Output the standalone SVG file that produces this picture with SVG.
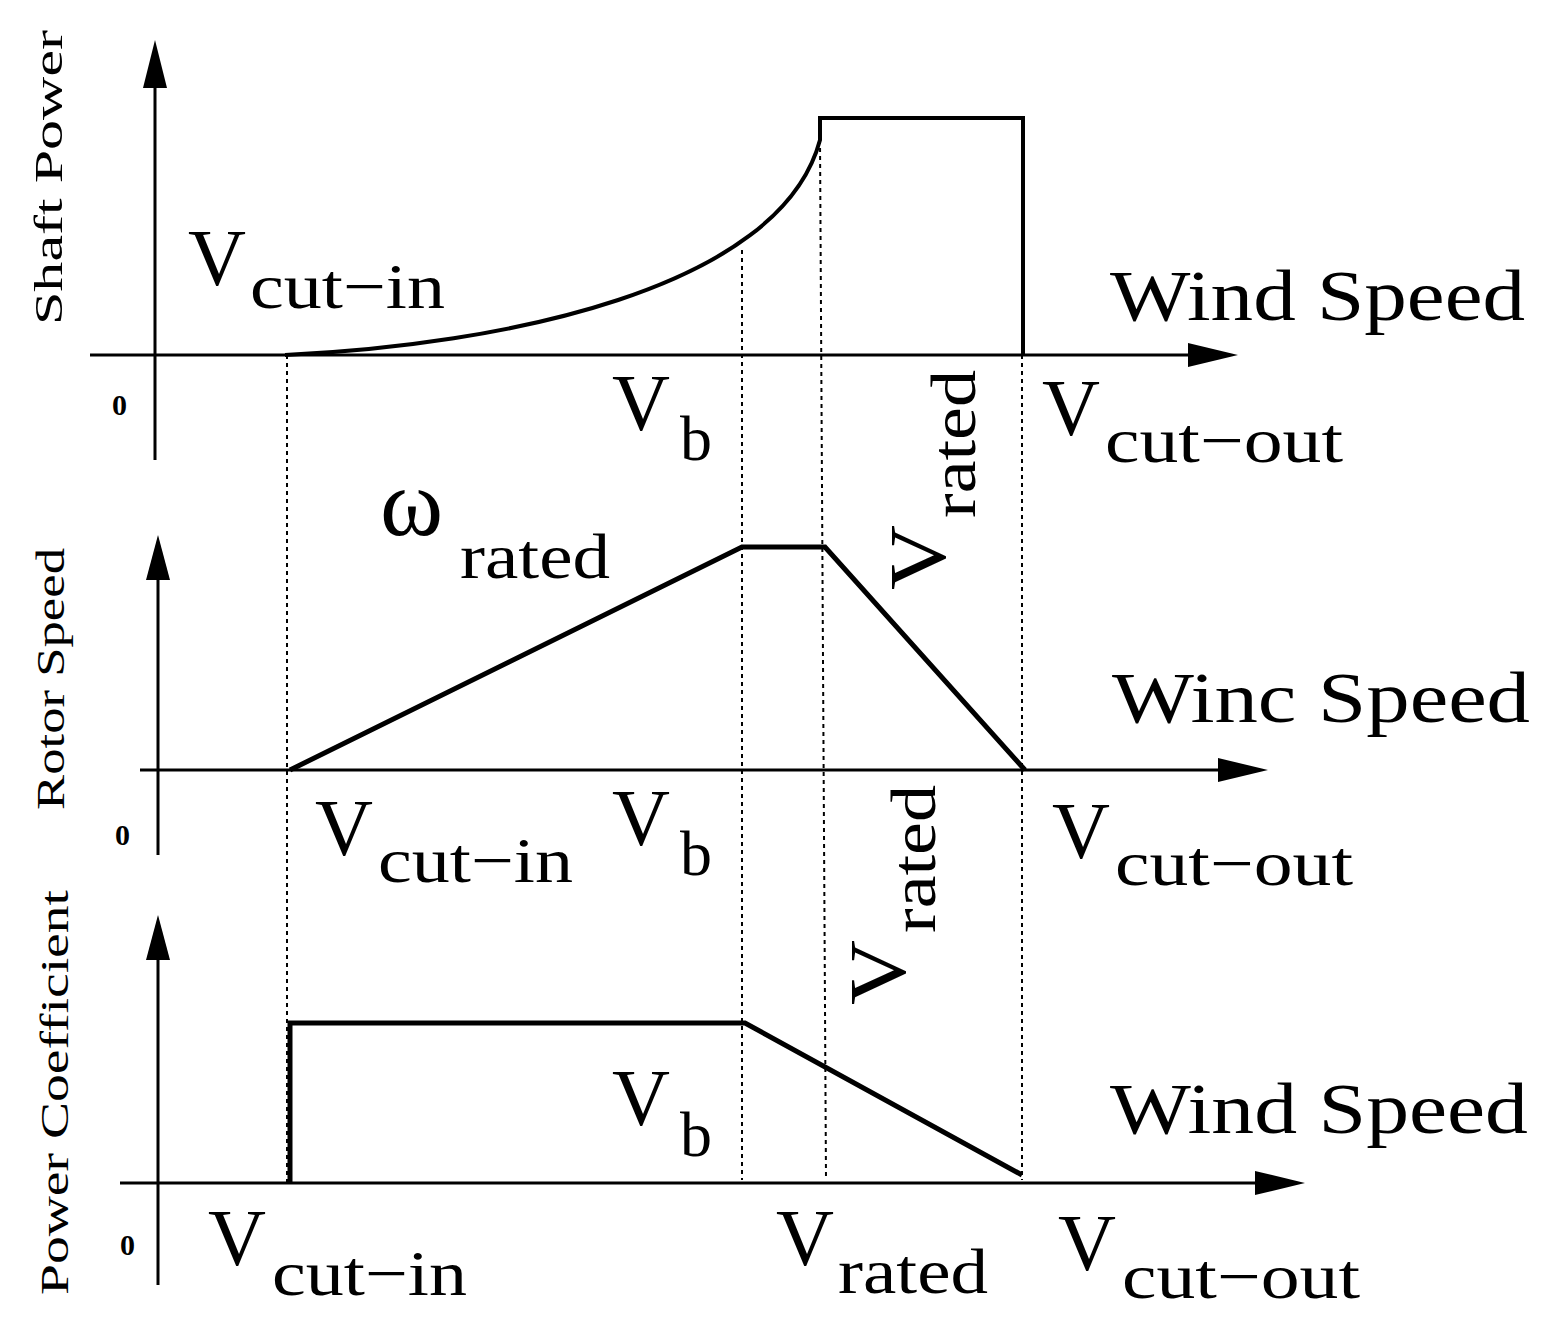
<svg xmlns="http://www.w3.org/2000/svg" width="1546" height="1341" viewBox="0 0 1546 1341">
<style>
.ax{stroke:#000;stroke-width:3;fill:none}
.th{stroke:#000;stroke-width:5;fill:none}
.dt{stroke:#000;stroke-width:2;stroke-dasharray:4 4;fill:none}
text{font-family:"Liberation Serif",serif;fill:#000}
.big{font-size:80px}
.sub{font-size:64px}
.lab{font-size:72px}
.ylab{font-size:40px}
.zero{font-size:30px;font-weight:bold}
</style>
<defs><marker id="ar" markerWidth="12" markerHeight="10" refX="10" refY="5" orient="auto" markerUnits="userSpaceOnUse" viewBox="0 0 12 10"><path d="M0,0 L12,5 L0,10 Z" fill="#000"/></marker></defs>
<rect width="1546" height="1341" fill="#fff"/>
<g id="connectors">
<line class="dt" x1="287" y1="355" x2="287" y2="1183"/>
<line class="dt" x1="742" y1="250" x2="742" y2="1180"/>
<line class="dt" x1="820" y1="140" x2="826" y2="1180"/>
<line class="dt" x1="1022" y1="355" x2="1022" y2="1180"/>
</g>
<g id="axes">
<path d="M155,460 V60" class="ax"/><path d="M155,40 l-12,48 h24 z"/>
<path d="M90,355 H1200" class="ax"/><path d="M1238,355 l-50,-12 v24 z"/>
<path d="M158,855 V560" class="ax"/><path d="M158,535 l-12,45 h24 z"/>
<path d="M140,770 H1230" class="ax"/><path d="M1268,770 l-50,-12 v24 z"/>
<path d="M158,1285 V935" class="ax"/><path d="M158,915 l-12,45 h24 z"/>
<path d="M120,1183 H1265" class="ax"/><path d="M1305,1183 l-50,-12 v24 z"/>
</g>
<g id="curves">
<path class="ax" d="M285,355 C500,345 780,290 820,140 V118 H1023 V355" style="stroke-width:4"/>
<path class="th" d="M290,770 L742,547 H825 L1025,770"/>
<path class="th" d="M290,1183 V1023 H745 L1022,1175"/>
</g>
<g id="labels">
<text class="ylab" transform="translate(62,325) rotate(-90)" textLength="295" lengthAdjust="spacingAndGlyphs">Shaft Power</text>
<text class="ylab" transform="translate(64,810) rotate(-90)" textLength="262" lengthAdjust="spacingAndGlyphs">Rotor Speed</text>
<text class="ylab" transform="translate(68,1295) rotate(-90)" textLength="405" lengthAdjust="spacingAndGlyphs">Power Coefficient</text>
<text class="zero" x="112" y="415">0</text>
<text class="zero" x="115" y="845">0</text>
<text class="zero" x="120" y="1255">0</text>
<text class="big" x="188" y="285" textLength="58" lengthAdjust="spacingAndGlyphs">V</text><text class="sub" x="250" y="308" textLength="195" lengthAdjust="spacingAndGlyphs">cut−in</text>
<text class="lab" x="1110" y="320" textLength="415" lengthAdjust="spacingAndGlyphs">Wind Speed</text>
<text class="big" x="612" y="430" textLength="58" lengthAdjust="spacingAndGlyphs">V</text><text class="sub" x="680" y="460">b</text>
<g transform="translate(945,590) rotate(-90)"><text class="big" x="0" y="0" textLength="65" lengthAdjust="spacingAndGlyphs">V</text><text class="sub" x="72" y="30" textLength="148" lengthAdjust="spacingAndGlyphs">rated</text></g>
<text class="big" x="1042" y="435" textLength="58" lengthAdjust="spacingAndGlyphs">V</text><text class="sub" x="1105" y="462" textLength="238" lengthAdjust="spacingAndGlyphs">cut−out</text>
<text x="380" y="535" style="font-size:96px">ω</text><text class="sub" x="460" y="578" textLength="150" lengthAdjust="spacingAndGlyphs">rated</text>
<text class="lab" x="1112" y="722" textLength="418" lengthAdjust="spacingAndGlyphs">Winc  Speed</text>
<text class="big" x="315" y="855" textLength="58" lengthAdjust="spacingAndGlyphs">V</text><text class="sub" x="378" y="882" textLength="195" lengthAdjust="spacingAndGlyphs">cut−in</text>
<text class="big" x="612" y="845" textLength="58" lengthAdjust="spacingAndGlyphs">V</text><text class="sub" x="680" y="875">b</text>
<g transform="translate(905,1005) rotate(-90)"><text class="big" x="0" y="0" textLength="65" lengthAdjust="spacingAndGlyphs">V</text><text class="sub" x="72" y="30" textLength="148" lengthAdjust="spacingAndGlyphs">rated</text></g>
<text class="big" x="1052" y="858" textLength="58" lengthAdjust="spacingAndGlyphs">V</text><text class="sub" x="1115" y="885" textLength="238" lengthAdjust="spacingAndGlyphs">cut−out</text>
<text class="big" x="612" y="1125" textLength="58" lengthAdjust="spacingAndGlyphs">V</text><text class="sub" x="680" y="1156">b</text>
<text class="lab" x="1110" y="1133" textLength="418" lengthAdjust="spacingAndGlyphs">Wind Speed</text>
<text class="big" x="208" y="1265" textLength="58" lengthAdjust="spacingAndGlyphs">V</text><text class="sub" x="272" y="1295" textLength="195" lengthAdjust="spacingAndGlyphs">cut−in</text>
<text class="big" x="776" y="1265" textLength="58" lengthAdjust="spacingAndGlyphs">V</text><text class="sub" x="838" y="1293" textLength="150" lengthAdjust="spacingAndGlyphs">rated</text>
<text class="big" x="1058" y="1270" textLength="58" lengthAdjust="spacingAndGlyphs">V</text><text class="sub" x="1122" y="1298" textLength="238" lengthAdjust="spacingAndGlyphs">cut−out</text>
</g>
</svg>
